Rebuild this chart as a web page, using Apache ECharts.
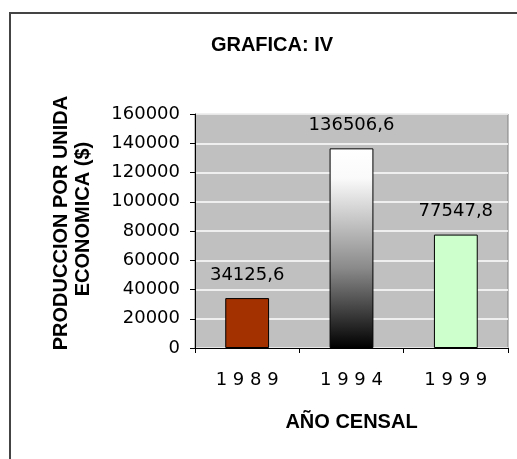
<!DOCTYPE html>
<html>
<head>
<meta charset="utf-8">
<script src="https://cdn.jsdelivr.net/npm/echarts@6/dist/echarts.min.js"></script>
<style>
  html, body { margin: 0; padding: 0; background: #fff; }
  #chart { width: 517px; height: 459px; }
</style>
</head>
<body>
<div id="chart"></div>
<script>
// datos del grafico
const years = ['1 9 8 9', '1 9 9 4', '1 9 9 9'];
const production = [34125.6, 136506.6, 77547.8];
const yTicks = [0, 20000, 40000, 60000, 80000, 100000, 120000, 140000, 160000];

const chart = echarts.init(document.getElementById('chart'));

const barColors = [
  '#a33100',
  new echarts.graphic.LinearGradient(0, 0, 0, 1, [
    { offset: 0, color: '#ffffff' },
    { offset: 0.15, color: '#fafafa' },
    { offset: 0.6, color: '#8a8a8a' },
    { offset: 1, color: '#000000' }
  ]),
  '#ccffcc'
];

const numFont = 'DejaVu Sans';
const boldFont = 'Liberation Sans, Arial, sans-serif';

chart.setOption({
  backgroundColor: '#fff',
  animation: false,
  title: {
    text: 'GRAFICA: IV',
    left: 267,
    top: 30,
    textAlign: 'center',
    textStyle: { fontFamily: boldFont, fontSize: 20, fontWeight: 'bold', color: '#000' }
  },
  grid: {
    left: 195,
    right: 9,
    top: 114,
    bottom: 111,
    show: true,
    backgroundColor: '#c0c0c0',
    borderColor: '#808080',
    borderWidth: 1
  },
  xAxis: {
    type: 'category',
    data: years,
    name: 'AÑO CENSAL',
    nameLocation: 'middle',
    nameGap: 64,
    nameTextStyle: { fontFamily: boldFont, fontSize: 20, fontWeight: 'bold', color: '#000' },
    axisLine: { lineStyle: { color: '#000', width: 1 } },
    axisTick: { show: true, length: 5, lineStyle: { color: '#000' } },
    axisLabel: { margin: 23, fontFamily: numFont, fontSize: 18, color: '#000' }
  },
  yAxis: {
    type: 'value',
    min: yTicks[0],
    max: yTicks[yTicks.length - 1],
    interval: yTicks[1] - yTicks[0],
    axisLine: { show: true, lineStyle: { color: '#000', width: 1 } },
    axisTick: { show: true, length: 5, lineStyle: { color: '#000' } },
    axisLabel: {
      margin: 15, fontFamily: numFont, fontSize: 18, color: '#000',
      formatter: v => String(v)
    },
    splitLine: { lineStyle: { color: '#ffffff', width: 1.5 } }
  },
  series: [{
    type: 'bar',
    barWidth: '42%',
    data: production.map((v, i) => ({
      value: v,
      itemStyle: { color: barColors[i], borderColor: '#000', borderWidth: 1 }
    })),
    label: {
      show: true,
      position: 'top',
      distance: 14,
      fontFamily: numFont,
      fontSize: 18,
      color: '#000',
      formatter: p => String(p.value).replace('.', ',')
    }
  }],
  graphic: [
    {
      type: 'rect',
      shape: { x: 10, y: 13, width: 600, height: 600 },
      style: { fill: 'none', stroke: '#444', lineWidth: 2 },
      silent: true,
      z: -1
    },
    {
      type: 'text',
      x: 61, y: 223,
      rotation: Math.PI / 2,
      style: {
        text: 'PRODUCCION POR UNIDA',
        fontFamily: boldFont, fontSize: 20, fontWeight: 'bold', fill: '#000',
        textAlign: 'center', textVerticalAlign: 'middle'
      }
    },
    {
      type: 'text',
      x: 83, y: 219,
      rotation: Math.PI / 2,
      style: {
        text: 'ECONOMICA ($)',
        fontFamily: boldFont, fontSize: 20, fontWeight: 'bold', fill: '#000',
        textAlign: 'center', textVerticalAlign: 'middle'
      }
    }
  ]
});
</script>
</body>
</html>
